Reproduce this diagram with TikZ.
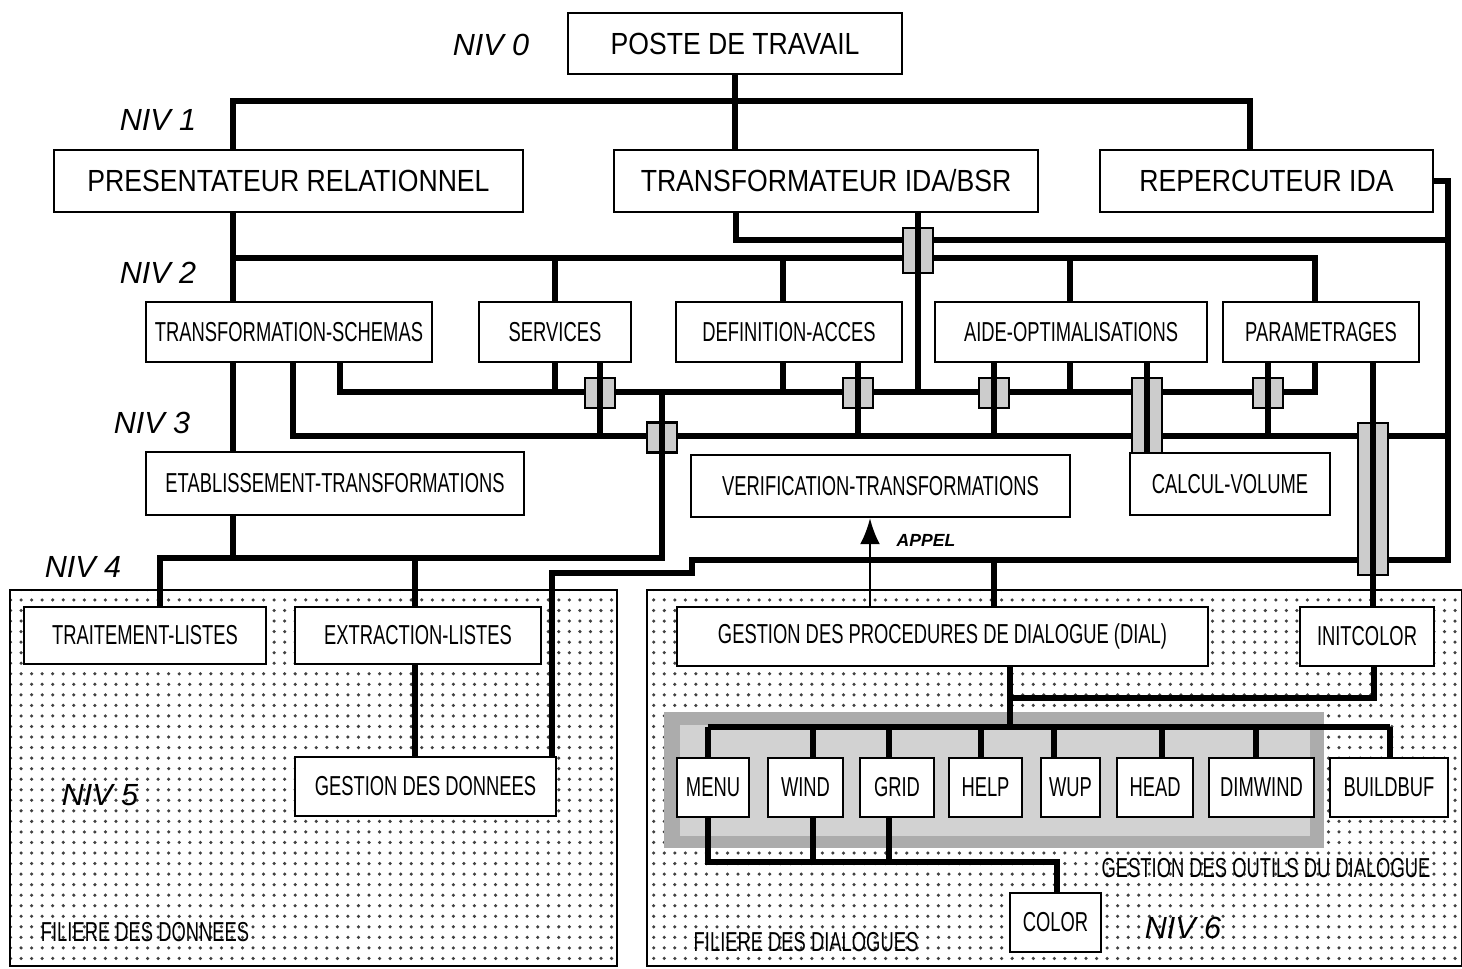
\documentclass[tikz,border=0pt]{standalone}
\usepackage{fontspec}
\setmainfont{Liberation Sans}
\newfontfamily\plotbig{Liberation Sans}[FakeStretch=0.87]
\newfontfamily\plotsmall{Liberation Sans}[FakeStretch=0.67]
\usetikzlibrary{patterns,arrows.meta}

\begin{document}
\begin{tikzpicture}[x=0.1mm,y=-0.1mm,
    box/.style 2 args={draw,line width=0.7pt,fill=white,inner sep=0pt,
      minimum width=#1mm,minimum height=#2mm},
    bigtext/.style={font=\plotbig\fontsize{8.7}{10}\selectfont},
    smalltext/.style={font=\plotsmall\fontsize{7.8}{9}\selectfont},
    niv/.style={font=\itshape\fontsize{8.7}{10}\selectfont},
    bus/.style={line width=1.7pt},
    bridge/.style={draw,line width=0.6pt,fill=gray!40,inner sep=0pt,minimum width=3mm}]
    \useasboundingbox (0,0) rectangle (1462,969);

    % les deux filieres
    \fill[pattern=dots,pattern color=black!75] (10,590) rectangle (617,966);
    \draw[line width=0.5pt] (10,590) rectangle (617,966);
    \fill[pattern=dots,pattern color=black!75] (647,590) rectangle (1462,966);
    \draw[line width=0.5pt] (647,590) rectangle (1462,966);
    \fill[gray!65] (664,712) rectangle (1324,848);
    \fill[gray!35] (680,725) rectangle (1310,836);

    % NIV 0 et 1
    \node[box={33.4}{6.1},bigtext] (poste) at (735,43.5) {POSTE DE TRAVAIL};
    \node[box={46.9}{6.2},bigtext] (pr) at (288.5,181) {PRESENTATEUR RELATIONNEL};
    \node[box={42.4}{6.2},bigtext] (trf) at (826,181) {TRANSFORMATEUR IDA/BSR};
    \node[box={33.3}{6.2},bigtext] (rep) at (1266.5,181) {REPERCUTEUR IDA};

    % NIV 2
    \node[box={28.6}{6.0},smalltext] (ts) at (289,332) {TRANSFORMATION-SCHEMAS};
    \node[box={15.2}{6.0},smalltext] (serv) at (555,332) {SERVICES};
    \node[box={22.6}{6.0},smalltext] (defa) at (789,332) {DEFINITION-ACCES};
    \node[box={27.2}{6.0},smalltext] (aide) at (1071,332) {AIDE-OPTIMALISATIONS};
    \node[box={19.6}{6.0},smalltext] (param) at (1321,332) {PARAMETRAGES};

    % NIV 3
    \node[box={37.8}{6.3},smalltext] (etab) at (335,483.5) {ETABLISSEMENT-TRANSFORMATIONS};
    \node[box={37.9}{6.2},smalltext] (verif) at (880.5,486) {VERIFICATION-TRANSFORMATIONS};
    \node[box={20.0}{6.2},smalltext] (calc) at (1230,484) {CALCUL-VOLUME};

    % NIV 4 et 5
    \node[box={24.2}{5.7},smalltext] (trl) at (145,635.5) {TRAITEMENT-LISTES};
    \node[box={24.6}{5.7},smalltext] (extr) at (418,635.5) {EXTRACTION-LISTES};
    \node[box={26.1}{5.9},smalltext] (gdon) at (425.5,786.5) {GESTION DES DONNEES};
    \node[box={53.1}{5.9},smalltext] (dial) at (942.5,636.5) {GESTION DES PROCEDURES DE DIALOGUE (DIAL)};
    \node[box={13.4}{5.9},smalltext] (initc) at (1367,636.5) {INITCOLOR};

    % NIV 6
    \node[box={7.2}{5.9},smalltext] (menu) at (713,787.5) {MENU};
    \node[box={7.5}{5.9},smalltext] (wind) at (805.5,787.5) {WIND};
    \node[box={7.4}{5.9},smalltext] (grid) at (897,787.5) {GRID};
    \node[box={7.3}{5.9},smalltext] (help) at (985.5,787.5) {HELP};
    \node[box={5.9}{5.9},smalltext] (wup) at (1070.5,787.5) {WUP};
    \node[box={7.6}{5.9},smalltext] (head) at (1155,787.5) {HEAD};
    \node[box={10.5}{5.9},smalltext] (dimw) at (1261.5,787.5) {DIMWIND};
    \node[box={11.8}{5.9},smalltext] (bbuf) at (1389,787.5) {BUILDBUF};
    \node[box={9.1}{5.9},smalltext] (color) at (1055.5,922.5) {COLOR};

    % niveaux et titres
    \node[niv] (niv0) at (491,45) {NIV 0};
    \node[niv] (niv1) at (158,120) {NIV 1};
    \node[niv] (niv2) at (158,273) {NIV 2};
    \node[niv] (niv3) at (152,423) {NIV 3};
    \node[niv] (niv4) at (83,567) {NIV 4};
    \node[niv] (niv5) at (100,795) {NIV 5};
    \node[niv] (niv6) at (1183,928) {NIV 6};
    \node[smalltext] (fdon) at (145,932) {FILIERE DES DONNEES};
    \node[smalltext] (fdia) at (806,942) {FILIERE DES DIALOGUES};
    \node[smalltext] (gout) at (1266,868) {GESTION DES OUTILS DU DIALOGUE};
    \node[font=\itshape\bfseries\fontsize{5}{6}\selectfont] (appel) at (926,540) {APPEL};

    % bus
    \draw[bus] (poste.south) -- (trf.north -| poste.south);
    \draw[bus] (pr.north -| 233,0) |- (1250,101) -- (rep.north -| 1250,0);
    \draw[bus] (trf.south -| 736,0) |- (1448,240);
    \draw[bus] (rep.east) -| (1448,560) -- (692,560) -- (692,573) -| (gdon.north -| 552,0);
    \draw[bus] (pr.south -| 233,0) -- (ts.north -| 233,0);
    \draw[bus] (233,258) -| (param.north -| 1315,0);
    \foreach \x/\n in {555/serv,783/defa,1070/aide}
      \draw[bus] (\x,258) -- (\n.north -| \x,0);
    \draw[bus] (ts.south -| 233,0) -- (etab.north -| 233,0);
    \draw[bus] (ts.south -| 293,0) |- (1448,436);
    \draw[bus] (ts.south -| 340,0) |- (1315,392) -- (param.south -| 1315,0);
    \foreach \x/\n in {555/serv,783/defa,1070/aide}
      \draw[bus] (\n.south -| \x,0) -- (\x,392);
    \draw[bus] (662,392) |- (160,558) -- (trl.north -| 160,0);
    \draw[bus] (etab.south -| 233,0) -- (233,558);
    \draw[bus] (415,558) -- (extr.north -| 415,0);
    \draw[bus] (extr.south -| 415,0) -- (gdon.north -| 415,0);
    \draw[bus] (994,560) -- (dial.north -| 994,0);
    \draw[line width=0.7pt,-{Latex[length=2.6mm,width=2mm]}] (dial.north -| 870,0) -- (verif.south -| 870,0);
    \draw[bus] (dial.south -| 1010,0) -- (1010,727);
    \draw[bus] (initc.south -| 1374,0) |- (1010,698);
    \draw[bus] (708,727) -- (1390,727);
    \foreach \x/\n in {708/menu,813/wind,889/grid,981/help,1054/wup,1162/head,1256/dimw,1390/bbuf}
      \draw[bus] (\x,727) -- (\n.north -| \x,0);
    \draw[bus] (menu.south -| 708,0) |- (1057,862) -- (color.north -| 1057,0);
    \foreach \x/\n in {813/wind,889/grid}
      \draw[bus] (\n.south -| \x,0) -- (\x,862);

    % croisements
    \node[bridge,minimum height=4.5mm] (br1) at (918,250.5) {};
    \node[bridge,minimum height=3mm] (br2) at (600,393) {};
    \node[bridge,minimum height=3mm] (br3) at (662,437.5) {};
    \node[bridge,minimum height=3mm] (br4) at (858,393) {};
    \node[bridge,minimum height=3mm] (br5) at (994,393) {};
    \node[bridge,minimum height=7.5mm] (br6) at (1147,415.5) {};
    \node[bridge,minimum height=3mm] (br7) at (1268,393) {};
    \node[bridge,minimum height=15.2mm] (br8) at (1373,499) {};
    \draw[bus] (trf.south -| 918,0) -- (918,392);
    \foreach \x/\n in {600/serv,858/defa,994/aide,1268/param}
      \draw[bus] (\n.south -| \x,0) -- (\x,436);
    \draw[bus] (662,420) -- (662,456);
    \draw[bus] (aide.south -| 1147,0) -- (calc.north -| 1147,0);
    \draw[bus] (param.south -| 1373,0) -- (initc.north -| 1373,0);
\end{tikzpicture}
\end{document}
